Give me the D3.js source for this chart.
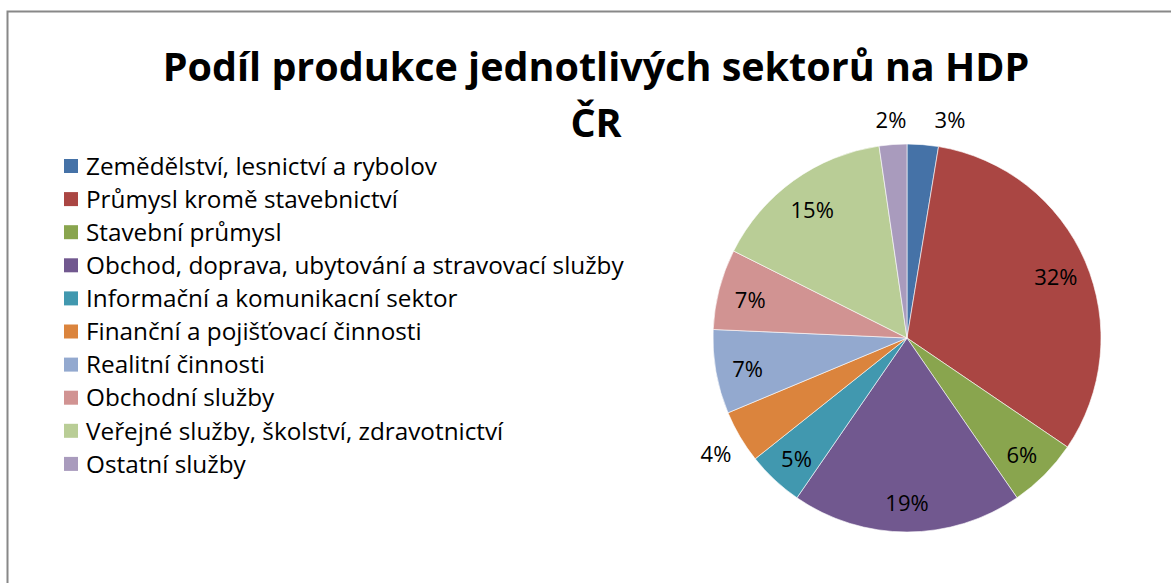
<!DOCTYPE html>
<html><head><meta charset="utf-8">
<script src="https://cdn.jsdelivr.net/npm/d3@7"></script>
<style>body{margin:0;background:#fff}svg{display:block}</style>
</head><body><svg id="c" width="1171" height="583"></svg>
<script>
const categories = ["Zemědělství, lesnictví a rybolov","Průmysl kromě stavebnictví","Stavební průmysl","Obchod, doprava, ubytování a stravovací služby","Informační a komunikacní sektor","Finanční a pojišťovací činnosti","Realitní činnosti","Obchodní služby","Veřejné služby, školství, zdravotnictví","Ostatní služby"];
const values = [2.6, 31.9, 5.9, 19.2, 4.7, 4.4, 7.0, 6.7, 15.3, 2.3];
const colors = ["#4572A7","#AA4643","#89A54E","#71588F","#4198AF","#DB843D","#93A9CF","#D19392","#B9CD96","#A99BBD"];
const titleLines = ["Podíl produkce jednotlivých sektorů na HDP","ČR"];

const svg = d3.select("#c");
const font = "'Open Sans', Lato, sans-serif";
svg.append("rect").attr("x",7.5).attr("y",11.5).attr("width",1300).attr("height",700)
  .attr("fill","#fff").attr("stroke","#888").attr("stroke-width",2);

svg.append("g").selectAll("text").data(titleLines).join("text")
  .attr("x",596).attr("y",(d,i)=>81+i*56).attr("text-anchor","middle")
  .attr("font-family",font).attr("font-weight","bold").attr("font-size",39.5).attr("fill","#000")
  .text(d=>d);

const cx=907, cy=338, R=194;
const data = categories.map((c,i)=>({c, v:values[i], col:colors[i]}));
const total = d3.sum(values);
const pie = d3.pie().sort(null).value(d=>d.v);
const arcs = pie(data);
const arc = d3.arc().innerRadius(0).outerRadius(R);
const g = svg.append("g").attr("transform",`translate(${cx},${cy})`);
g.selectAll("path").data(arcs).join("path").attr("d",arc)
  .attr("fill",d=>d.data.col).attr("stroke","#fff").attr("stroke-width",0.6);

// label layout: inside for larger slices, outside for small ones
const inArc = d3.arc().innerRadius(162).outerRadius(162);
const outArc = d3.arc().innerRadius(222).outerRadius(222);
const fmt = d3.format(".0%");
const labels = arcs.map(d=>{
  const out = d.data.v < 4.5;
  const [x,y] = (out?outArc:inArc).centroid(d);
  return {text: fmt(d.data.v/total), x, y: y+3, out};
});
// resolve overlap among outside labels near the top
const tops = labels.filter(l=>l.out && l.y<0).sort((a,b)=>a.x-b.x);
for (let i=1;i<tops.length;i++){
  if (Math.abs(tops[i].y-tops[i-1].y)<22 && tops[i].x-tops[i-1].x<59) tops[i].x = tops[i-1].x+59;
}
g.selectAll("text").data(labels).join("text")
  .attr("x",d=>d.x).attr("y",d=>d.y)
  .attr("text-anchor","middle").attr("dy","0.36em")
  .attr("font-family",font).attr("font-size",22).attr("fill","#000")
  .text(d=>d.text);

const leg = svg.append("g").selectAll("g").data(data).join("g")
  .attr("transform",(d,i)=>`translate(64,${166+i*33.1})`);
leg.append("rect").attr("x",0).attr("y",-7).attr("width",14).attr("height",14).attr("fill",d=>d.col);
leg.append("text").attr("x",22).attr("y",0).attr("dy","0.36em")
  .attr("font-family",font).attr("font-size",24.3).attr("fill","#000").text(d=>d.c);
</script></body></html>
